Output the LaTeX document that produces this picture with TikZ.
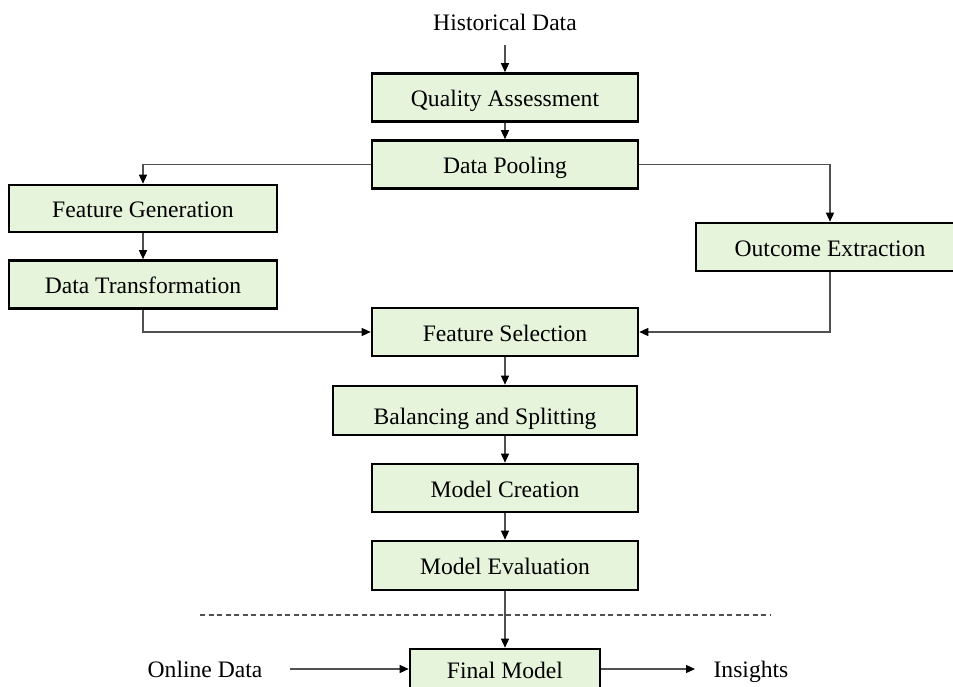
\documentclass[tikz,border=0pt]{standalone}
\usepackage{fontspec}
\setmainfont{Liberation Serif}
\usetikzlibrary{arrows.meta,calc}

\definecolor{boxfill}{HTML}{E6F4DB}
\definecolor{linegray}{HTML}{505050}

\tikzset{
  procbox/.style={draw=black, line width=2.6pt, fill=boxfill,
    minimum width=266pt, minimum height=48pt, inner sep=0pt, align=center,
    text height=18pt, text depth=0pt},
  plain/.style={inner sep=0pt},
  conn/.style={draw=linegray, line width=1.3pt,
    -{Triangle[length=9pt,width=8pt,fill=black,color=black]}},
  sepline/.style={draw=linegray, line width=1.3pt, dash pattern=on 5pt off 3.5pt},
}

\begin{document}
\begin{tikzpicture}[x=1pt, y=-1pt, font=\fontsize{23.6}{28}\selectfont]
  \useasboundingbox (0,0) rectangle (953,686);
  \clip (0,0) rectangle (953,686);

  % upper pipeline
  \node[plain] (hist) at (505,22) {Historical Data};
  \coordinate (histout) at (505,45);
  \node[procbox] (qa) at (505,97.5) {Quality Assessment};
  \node[procbox] (dp) at (505,164.5) {Data Pooling};

  % left branch
  \node[procbox, minimum width=268pt, minimum height=47pt] (fg) at (143,208.5) {Feature Generation};
  \node[procbox, minimum width=268pt] (dt) at (143,284.5) {Data Transformation};

  % right branch
  \node[procbox, minimum width=268pt] (oe) at (830,247) {Outcome Extraction};

  % merge and modelling
  \node[procbox] (fs) at (505,332) {Feature Selection};
  \node[procbox, minimum width=304pt, minimum height=49pt, text height=27pt] (bs) at (485,410.5) {Balancing and Splitting};
  \node[procbox] (mc) at (505,488) {Model Creation};
  \node[procbox, minimum height=49pt] (me) at (505,565.5) {Model Evaluation};

  % deployment
  \node[procbox, minimum width=190pt, minimum height=40pt] (fm) at (505,669) {Final Model};
  \node[plain, anchor=base] (online) at (205,677) {Online Data};
  \node[plain, anchor=base] (ins) at (751,677) {Insights};
  \coordinate (onlinestart) at (290,669);
  \coordinate (insend) at (695,669);

  % connectors
  \draw[conn] (histout) -- (qa.north);
  \draw[conn] (qa) -- (dp);
  \draw[conn] (dp.west) -| (fg.north);
  \draw[conn] (dp.east) -| (oe.north);
  \draw[conn] (fg) -- (dt);
  \draw[conn] (dt.south) |- (fs.west);
  \draw[conn] (oe.south) |- (fs.east);
  \draw[conn] (fs.south) -- (fs.south |- bs.north);
  \draw[conn] (mc.north |- bs.south) -- (mc.north);
  \draw[conn] (mc) -- (me);
  \draw[conn] (me) -- (fm);
  \draw[conn] (onlinestart) -- (fm.west);
  \draw[conn] (fm.east) -- (insend);

  % separator between training and online use
  \draw[sepline] (200,615) -- (771,615);
\end{tikzpicture}
\end{document}
